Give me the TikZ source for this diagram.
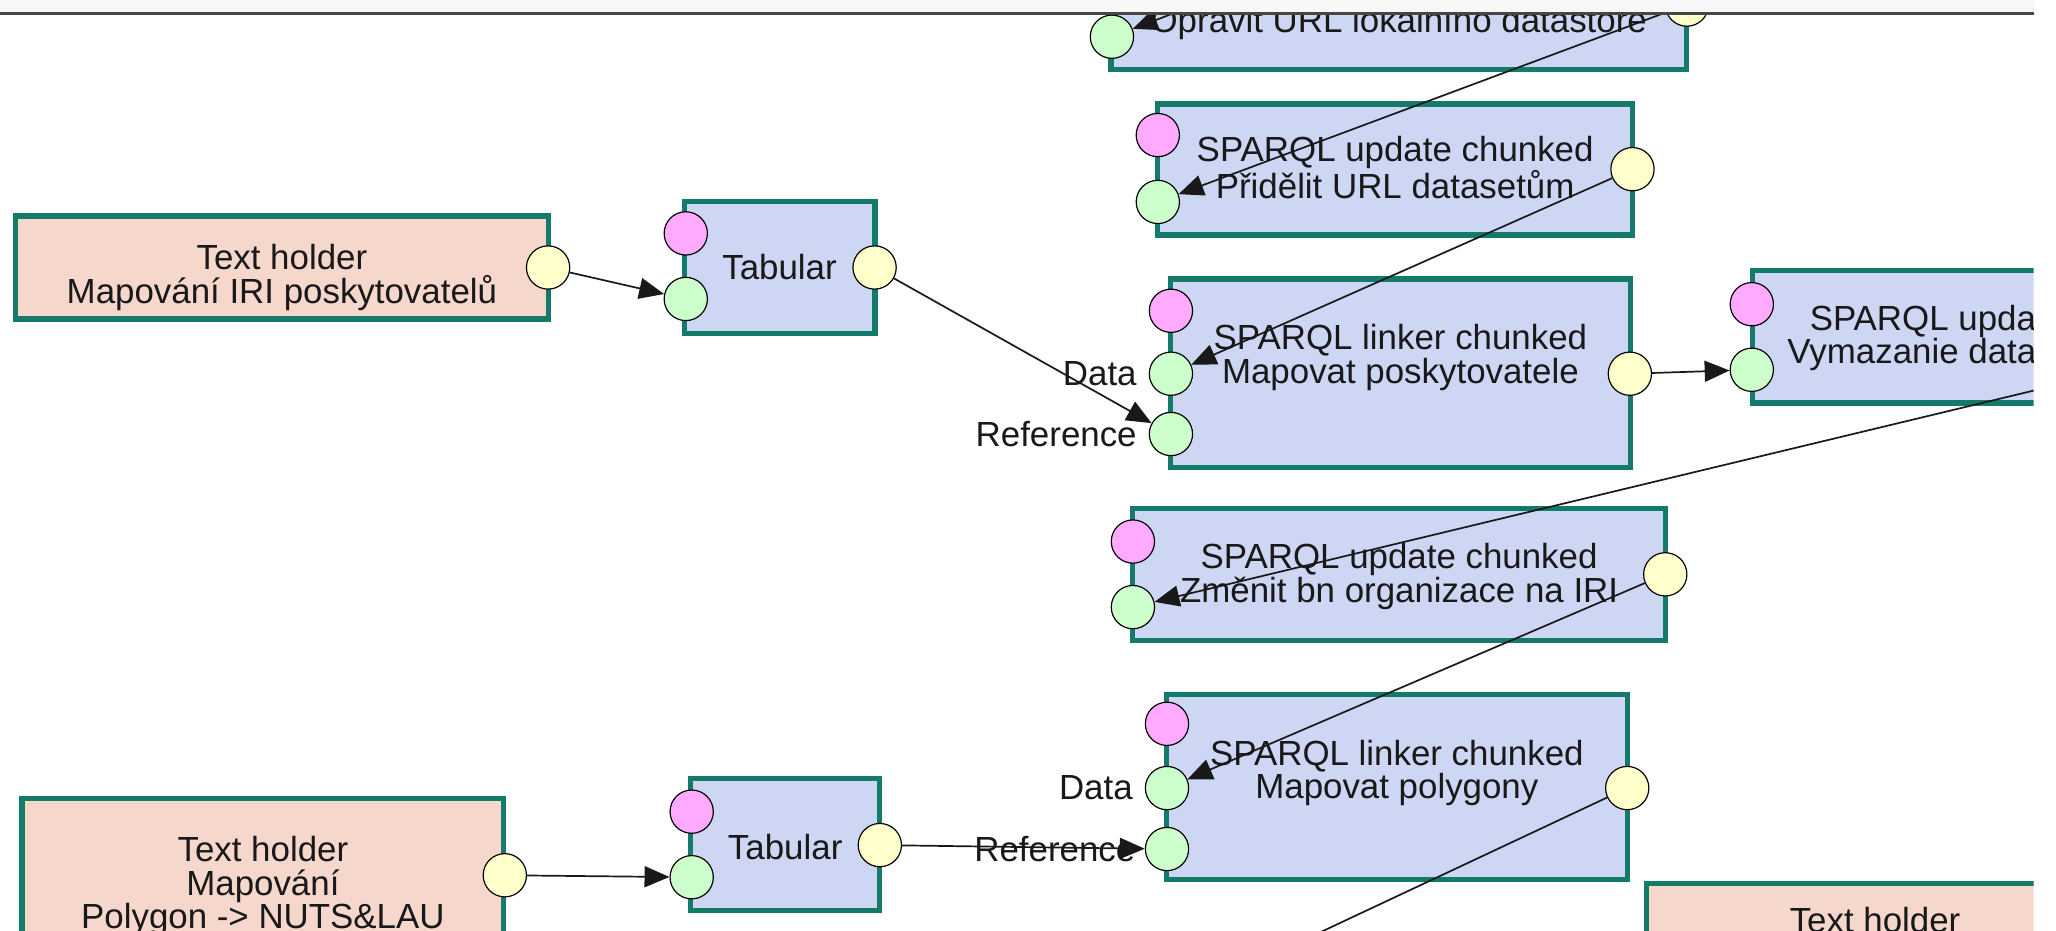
\documentclass[tikz,border=0pt]{standalone}
\usepackage{fontspec}
\setmainfont{Liberation Sans}
\usetikzlibrary{arrows.meta,positioning}
\definecolor{boxline}{RGB}{20,122,106}
\definecolor{holderfill}{RGB}{245,215,204}
\definecolor{workerfill}{RGB}{205,214,243}
\definecolor{cfgfill}{RGB}{255,170,255}
\definecolor{infill}{RGB}{204,255,204}
\definecolor{outfill}{RGB}{255,255,204}
\definecolor{bandfill}{RGB}{247,247,247}
\definecolor{bandline}{RGB}{70,70,70}
\begin{document}
\begin{tikzpicture}[x=1pt,y=-1pt,
    every node/.style={font=\fontsize{26.6}{25.5}\selectfont, text=black!90},
    box/.style={draw=boxline, line width=4pt, inner sep=0pt},
    holder/.style={box, fill=holderfill},
    worker/.style={box, fill=workerfill},
    txt/.style={align=center, inner sep=0pt},
    port/.style={circle, draw=black, line width=0.9pt, minimum size=33pt, inner sep=0pt},
    cfgport/.style={port, fill=cfgfill},
    inport/.style={port, fill=infill},
    outport/.style={port, fill=outfill},
    lbl/.style={inner sep=0pt},
    link/.style={-{Triangle[length=19pt,width=16pt]}, line width=1.3pt, draw=black!90}]
  \useasboundingbox (0,0) rectangle (1568,710);
  \begin{scope}
    \clip (0,0) rectangle (1551,710);
    % boxes
    \draw
      (215,204) node[holder, minimum width=406.5pt, minimum height=78.5pt] (th1){}
      (594.5,204) node[worker, minimum width=145.5pt, minimum height=100.5pt] (tab1){}
      (1066.75,2.7) node[worker, minimum width=439pt, minimum height=100.5pt] (upd0){}
      (1064,129.25) node[worker, minimum width=362.3pt, minimum height=100pt] (upd1){}
      (1068.25,284.5) node[worker, minimum width=351pt, minimum height=143.5pt] (lnk1){}
      (1528.7,256.8) node[worker, minimum width=384.5pt, minimum height=100.9pt] (upd2){}
      (1067,438.25) node[worker, minimum width=406.5pt, minimum height=101pt] (upd3){}
      (1065.3,600.35) node[worker, minimum width=351.5pt, minimum height=141.2pt] (lnk2){}
      (598.8,644) node[worker, minimum width=144pt, minimum height=100.5pt] (tab2){}
      (200.5,678.75) node[holder, minimum width=367.5pt, minimum height=140pt] (th2){}
      (1430,723.75) node[holder, minimum width=348.5pt, minimum height=100pt] (th3){};
    % texts
    \draw
      (215,211.5) node[txt] (th1t){Text holder\\Mapování IRI poskytovatelů}
      (594.5,204) node[txt] (tab1t){Tabular}
      (1066.75,5) node[txt] (upd0t){SPARQL update chunked\\Opravit URL lokálního datastore}
      (1064,128) node[txt] (upd1t){SPARQL update chunked\\Přidělit URL datasetům}
      (1068,272.5) node[txt] (lnk1t){SPARQL linker chunked\\Mapovat poskytovatele}
      (1380,245.2) node[txt, anchor=west] (upd2t){SPARQL update chunked}
      (1363,270.5) node[txt, anchor=west] (upd2u){Vymazanie data}
      (1067,439.8) node[txt] (upd3t){SPARQL update chunked\\Změnit bn organizace na IRI}
      (1065.3,589.7) node[txt] (lnk2t){SPARQL linker chunked\\Mapovat polygony}
      (598.8,645.7) node[txt] (tab2t){Tabular}
      (200.5,676) node[txt] (th2t){Text holder\\Mapování\\Polygon -> NUTS\&LAU}
      (1430,701.7) node[txt] (th3t){Text holder};
    % ports
    \draw
      (418,204) node[outport] (th1o){}
      (523,178) node[cfgport] (tab1c){}
      (523,228) node[inport] (tab1i){}
      (667,204) node[outport] (tab1o){}
      (848,-22) node[cfgport] (upd0c){}
      (848,28) node[inport] (upd0i){}
      (1286.5,3.5) node[outport] (upd0o){}
      (883,103) node[cfgport] (upd1c){}
      (883,154) node[inport] (upd1i){}
      (1245,129) node[outport] (upd1o){}
      (893,237) node[cfgport] (lnk1c){}
      (893,285) node[inport] (lnk1d){}
      (893,331) node[inport] (lnk1r){}
      (1243,285) node[outport] (lnk1o){}
      (1336,232) node[cfgport] (upd2c){}
      (1336,282) node[inport] (upd2i){}
      (1721,257) node[outport] (upd2o){}
      (864,413) node[cfgport] (upd3c){}
      (864,463) node[inport] (upd3i){}
      (1270,438) node[outport] (upd3o){}
      (890,552) node[cfgport] (lnk2c){}
      (890,601) node[inport] (lnk2d){}
      (890,647.5) node[inport] (lnk2r){}
      (1241,601) node[outport] (lnk2o){}
      (527.5,619) node[cfgport] (tab2c){}
      (527.5,669) node[inport] (tab2i){}
      (671,644.5) node[outport] (tab2o){}
      (385,667.5) node[outport] (th2o){};
    \node[lbl, left=9pt of lnk1d] (lnk1dl) {Data};
    \node[lbl, left=9pt of lnk1r] (lnk1rl) {Reference};
    \node[lbl, left=9pt of lnk2d] (lnk2dl) {Data};
    \node[lbl, left=7pt of lnk2r] (lnk2rl) {Reference};
    \coordinate (prevout) at (1290,-140);
    \coordinate (nextin) at (960,733);
    % links
    \begin{scope}[link]
      \draw (prevout) to (upd0i);
      \draw (th1o) to (tab1i);
      \draw (tab1o) to (lnk1r);
      \draw (upd0o) to (upd1i);
      \draw (upd1o) to (lnk1d);
      \draw (lnk1o) to (upd2i);
      \draw (upd2o) to (upd3i);
      \draw (upd3o) to (lnk2d);
      \draw (th2o) to (tab2i);
      \draw (tab2o) to (lnk2r);
      \draw (lnk2o) to (nextin);
    \end{scope}
  \end{scope}
  % header band
  \fill[bandfill] (0,0) rectangle (1551,10.3);
  \draw[bandline, line width=1.6pt] (0,10.3) -- (1551,10.3);
\end{tikzpicture}
\end{document}
